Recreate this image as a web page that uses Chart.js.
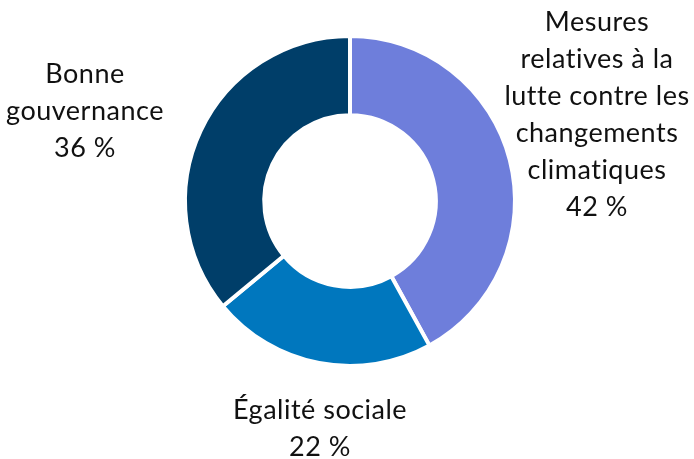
<!DOCTYPE html>
<html>
<head>
<meta charset="utf-8">
<script src="https://cdn.jsdelivr.net/npm/chart.js@4/dist/chart.umd.min.js"></script>
<style>
  html, body { margin: 0; padding: 0; background: #fff; }
  #wrap { width: 694px; height: 459px; }
</style>
</head>
<body>
<div id="wrap"><canvas id="donut"></canvas></div>
<script>
// Data
const categories = [
    ['Mesures', 'relatives à la', 'lutte contre les', 'changements', 'climatiques'],
    ['Égalité sociale'],
    ['Bonne', 'gouvernance']
];
const values = [42, 22, 36];
const colors = ['#6e7edb', '#0077be', '#003e69'];

// Where each label block is centred (canvas px)
const labelCenters = [[597, 115], [320, 429], [85, 111]];

const outsideLabels = {
    id: 'outsideLabels',
    afterDraw(chart) {
        const ctx = chart.ctx;
        const lineH = 37;
        ctx.save();
        ctx.font = '27px Lato';
        ctx.letterSpacing = '0.5px'; // also stops the "ti" ligature
        ctx.fillStyle = '#111';
        ctx.textAlign = 'center';
        ctx.textBaseline = 'middle';
        categories.forEach((lines, i) => {
            const all = lines.concat([values[i] + ' %']);
            const [cx, cy] = labelCenters[i];
            const top = cy - (all.length - 1) * lineH / 2;
            all.forEach((t, j) => ctx.fillText(t, cx, top + j * lineH));
        });
        ctx.restore();
    }
};

new Chart(document.getElementById('donut'), {
    type: 'doughnut',
    data: {
        labels: categories.map(l => l.join(' ')),
        datasets: [{
            data: values,
            backgroundColor: colors,
            borderColor: '#fff',
            borderWidth: 4
        }]
    },
    options: {
        responsive: true,
        maintainAspectRatio: false,
        animation: false,
        cutout: '52%',
        layout: { padding: { left: 183, right: 177, top: 34, bottom: 91 } },
        plugins: {
            legend: { display: false },
            tooltip: { enabled: false }
        }
    },
    plugins: [outsideLabels]
});
</script>
</body>
</html>
